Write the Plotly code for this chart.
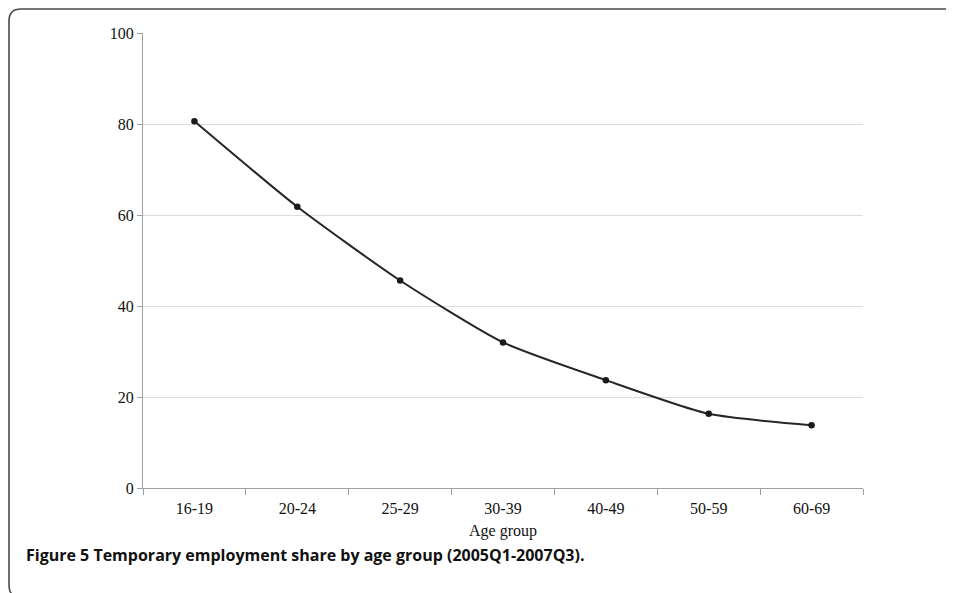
import plotly.graph_objects as go

age_groups = ["16-19", "20-24", "25-29", "30-39", "40-49", "50-59", "60-69"]
temp_share = [80.6, 61.8, 45.6, 32.0, 23.7, 16.3, 13.8]
y_ticks = [0, 20, 40, 60, 80, 100]
caption = "Figure 5 Temporary employment share by age group (2005Q1-2007Q3)."

# page body has an 8px margin, so the figure is sized to the visible area
OFF = 8
W, H = 954 - OFF, 593 - OFF
L, R, T, B = 143 - OFF, 91, 33 - OFF, 105
pw, ph = W - L - R, H - T - B

def px(x):  # screen pixel -> paper x
    return (x - OFF - L) / pw

def py(y):  # screen pixel -> paper y
    return (H - B - (y - OFF)) / ph

fig = go.Figure()
fig.add_trace(go.Scatter(
    x=age_groups, y=temp_share, mode="lines+markers",
    line=dict(color="#262626", width=2, shape="spline", smoothing=0.6),
    marker=dict(color="#1a1a1a", size=6.5),
    showlegend=False, hoverinfo="x+y",
))

serif = "Liberation Serif, Times New Roman, serif"
fig.update_layout(
    width=W, height=H,
    margin=dict(l=L, r=R, t=T, b=B, pad=0),
    paper_bgcolor="white", plot_bgcolor="white",
    font=dict(family=serif, size=16, color="#111111"),
    xaxis=dict(
        type="category", range=[-0.5, 6.5], tickson="boundaries",
        showgrid=False, showline=True, linecolor="#a0a0a0", linewidth=1,
        ticks="outside", ticklen=6, tickcolor="#a0a0a0", ticklabelstandoff=6,
        tickfont=dict(family=serif, size=16, color="#111111"),
        title=dict(text="Age group", font=dict(family=serif, size=16, color="#111111"), standoff=8),
        zeroline=False,
    ),
    yaxis=dict(
        range=[0, 100], tickvals=y_ticks, showgrid=True, gridcolor="#dcdcdc", gridwidth=1,
        showline=True, linecolor="#a0a0a0", linewidth=1,
        ticks="outside", ticklen=5, tickcolor="#a0a0a0",
        tickfont=dict(family=serif, size=16, color="#111111"),
        zeroline=False,
    ),
)

# rounded frame around the figure (open to right and bottom)
x0, y0, r = 9, 9, 12
path = (f"M {px(970)},{py(y0)} L {px(x0 + r)},{py(y0)} "
        f"Q {px(x0)},{py(y0)} {px(x0)},{py(y0 + r)} "
        f"L {px(x0)},{py(584)} Q {px(x0)},{py(592)} {px(x0 + 3)},{py(594)}")
fig.add_shape(type="path", path=path, xref="paper", yref="paper",
              line=dict(color="#4a4a4a", width=1.6))

fig.add_annotation(
    text=caption, xref="paper", yref="paper", x=px(24), y=py(555),
    xanchor="left", yanchor="middle", showarrow=False,
    font=dict(family="Open Sans, Noto Sans, sans-serif", size=16, color="#111111", weight="bold"),
)

fig.write_html("out.html")
